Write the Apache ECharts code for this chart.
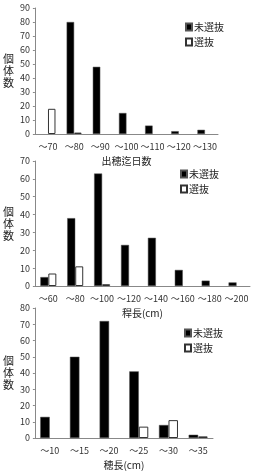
<!DOCTYPE html>
<html><head><meta charset="utf-8">
<script src="https://cdn.jsdelivr.net/npm/echarts@6/dist/echarts.min.js"></script>
<style>html,body{margin:0;padding:0;background:#fff}#c{width:263px;height:471px}</style>
</head><body><div id="c"></div>
<script>
const seriesNames = ['未選抜', '選抜'];
const cats1 = ['～70','～80','～90','～100','～110','～120','～130'];
const unsel1 = [0, 80, 48, 15, 6, 2, 3];
const sel1 = [18, 1, 0, 0, 0, 0, 0];
const cats2 = ['～60','～80','～100','～120','～140','～160','～180','～200'];
const unsel2 = [5, 38, 63, 23, 27, 9, 3, 2];
const sel2 = [7, 11, 1, 0, 0, 0, 0, 0];
const cats3 = ['～10','～15','～20','～25','～30','～35'];
const unsel3 = [13, 50, 72, 41, 8, 2];
const sel3 = [0, 0, 0, 7, 11, 1];
const xNames = ['出穂迄日数', '稈長(cm)', '穂長(cm)'];
const yName = '個\n体\n数';
const yMax = [90, 70, 80];

const font = '"Noto Sans CJK JP", "DejaVu Sans", sans-serif';
const axisCol = '#888';
const grids = [
  {left: 34, width: 184, top: 8, height: 126},
  {left: 33, width: 217, top: 161, height: 125},
  {left: 32, width: 181, top: 308, height: 133}
];
const cats = [cats1, cats2, cats3];
const uns = [unsel1, unsel2, unsel3];
const sels = [sel1, sel2, sel3];
const bw = [7.5, 8, 9.5];
const legendPos = [{left: 180, top: 17}, {left: 175, top: 164}, {left: 179, top: 323}];
const noZero = arr => arr.map(v => v === 0 ? '-' : v);

const opt = {
  animation: false,
  textStyle: {fontFamily: font},
  grid: grids,
  xAxis: cats.map((c, i) => ({
    type: 'category', gridIndex: i, data: c,
    name: xNames[i], nameLocation: 'middle', nameGap: 22,
    nameTextStyle: {fontSize: 10, color: '#222', fontFamily: font},
    axisLine: {lineStyle: {color: axisCol}},
    axisTick: {length: 3, lineStyle: {color: axisCol}},
    axisLabel: {fontSize: 9, color: '#333', margin: 8, interval: 0, fontFamily: font}
  })),
  yAxis: yMax.map((m, i) => ({
    type: 'value', gridIndex: i, min: 0, max: m, interval: 10,
    name: yName, nameLocation: 'middle', nameGap: 17, nameRotate: 0,
    nameTextStyle: {fontSize: 11, color: '#222', lineHeight: 12, fontFamily: font},
    axisLine: {show: true, lineStyle: {color: axisCol}},
    axisTick: {show: true, length: 2, lineStyle: {color: axisCol}},
    splitLine: {show: false},
    axisLabel: {fontSize: 9, color: '#333', margin: 5, fontFamily: font}
  })),
  legend: legendPos.map((p, i) => ({
    left: p.left, top: p.top, orient: 'vertical', itemGap: 5,
    itemWidth: 6, itemHeight: 7, icon: 'rect',
    textStyle: {fontSize: 10, color: '#222', padding: [0,0,0,-3], fontFamily: font},
    data: seriesNames
  })),
  series: []
};
for (let i = 0; i < 3; i++) {
  opt.series.push({
    type: 'bar', name: seriesNames[0], xAxisIndex: i, yAxisIndex: i,
    data: noZero(uns[i]), barWidth: bw[i], barGap: '0%',
    itemStyle: {color: '#000', borderColor: '#555', borderWidth: 0.5}
  });
  opt.series.push({
    type: 'bar', name: seriesNames[1], xAxisIndex: i, yAxisIndex: i,
    data: noZero(sels[i]), barWidth: bw[i], barGap: '0%',
    itemStyle: {color: '#fff', borderColor: '#333', borderWidth: 1}
  });
}
const chart = echarts.init(document.getElementById('c'), null, {renderer: 'canvas'});
chart.setOption(opt);
</script></body></html>
